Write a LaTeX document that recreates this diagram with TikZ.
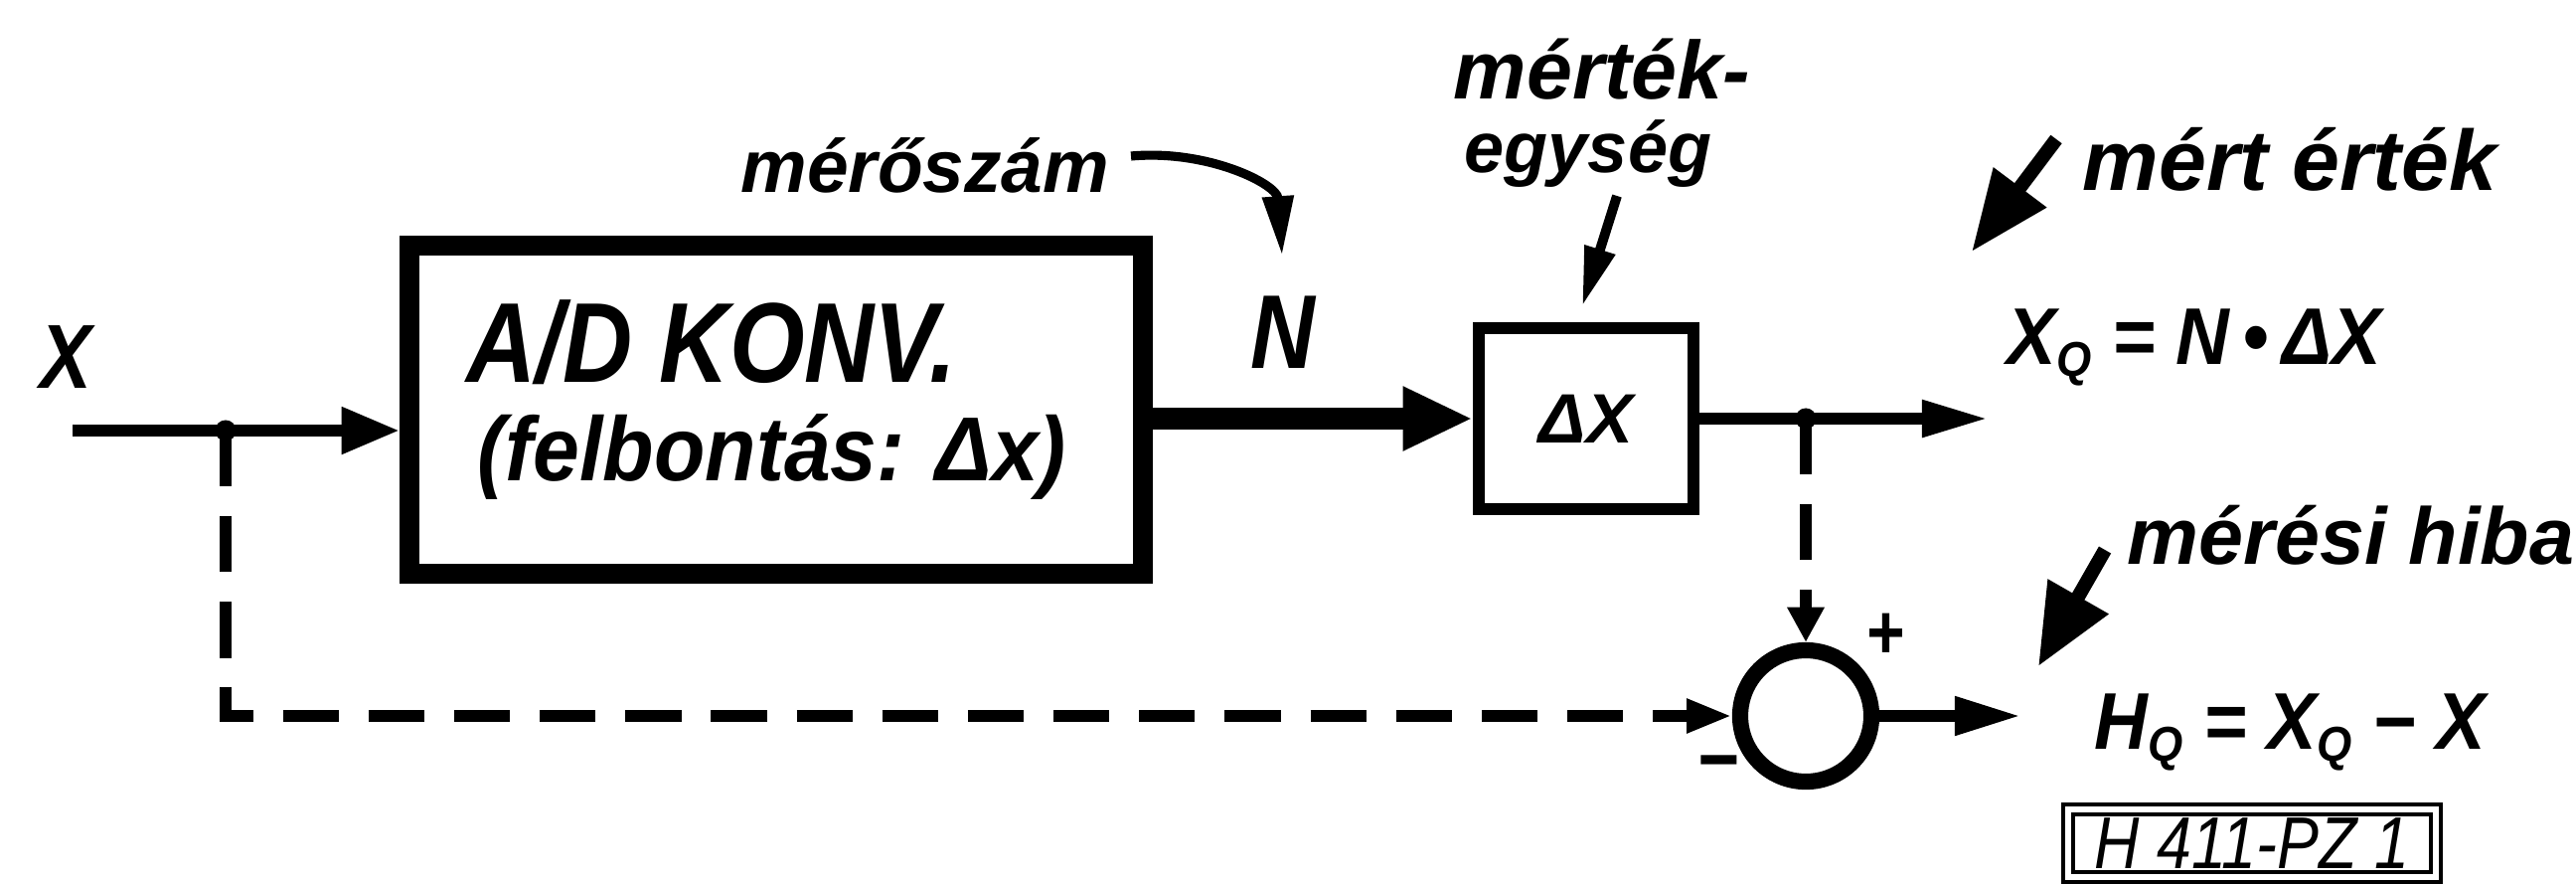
\documentclass[tikz,border=0pt]{standalone}
\usepackage{fontspec}
\setmainfont{Liberation Sans}
\newfontfamily\hwn[FakeStretch=0.85]{Liberation Sans}
\newfontfamily\hwm[FakeStretch=0.92]{Liberation Sans}
\newfontfamily\hww{Liberation Sans}
\usetikzlibrary{arrows.meta}
\begin{document}
\begin{tikzpicture}[x=0.01cm,y=-0.01cm,
  lbn/.style={font={\hwn\bfseries\itshape\fontsize{#1}{#1}\selectfont}, inner sep=0pt},
  lbm/.style={font={\hwm\bfseries\itshape\fontsize{#1}{#1}\selectfont}, inner sep=0pt},
  lbw/.style={font={\hww\bfseries\itshape\fontsize{#1}{#1}\selectfont}, inner sep=0pt},
  ln/.style={line width=3.2pt},
  dsh/.style={line width=3.4pt, dash pattern=on 16pt off 8.5pt},
  dot/.style={fill, radius=3pt}
]
\useasboundingbox[fill=white] (0,0) rectangle (2592,888);
\newcommand{\subQ}{\raisebox{-0.3ex}{\fontsize{14}{14}\selectfont Q}}

% blocks
\node[draw, line width=5.7pt, minimum width=7.38cm, minimum height=3.29cm, inner sep=0pt] (ad) at (781,412) {};
\node[lbn=32.5, anchor=base west] (adt1) at (469,384) {A/D KONV.};
\node[lbm=26, anchor=base west] (adt2) at (480,483) {(felbontás: Δx)};

\node[draw, line width=3.4pt, minimum width=2.16cm, minimum height=1.81cm, lbw=20] (dx) at (1596,421) {ΔX};

\node[circle, draw, line width=4.6pt, minimum size=1.32cm, inner sep=0pt] (sum) at (1817,720) {};

% labels
\node[lbn=26, anchor=base west] (X) at (40,390) {X};
\node[lbw=21.3, anchor=base west] (msz) at (745,193) {mérőszám};
\node[lbn=30, anchor=base west] (N) at (1258,370) {N};
\node[lbw=23.5, anchor=base west] (mt) at (1462,100) {mérték-};
\node[lbw=20.5, anchor=base west] (eg) at (1473,173) {egység};
\node[lbw=24.5, anchor=base west] (me) at (2095,192) {mért érték};
\node[lbm=23, anchor=base west] (xqt) at (2019,366) {X\subQ{} = N\,•\,ΔX};
\node[lbw=23, anchor=base west] (mh) at (2140,567) {mérési hiba};
\node[lbm=23, anchor=base west] (hqt) at (2107,753) {H\subQ{} = X\subQ{} − X};
\node[lbn=22] (plus) at (1897,640) {+};
\node[lbn=24] (minus) at (1728,776) {−};
\node[draw, line width=1.2pt, double, double distance=1.6pt, minimum width=3.7cm, minimum height=0.68cm, inner sep=0pt,
      font={\hwn\itshape\fontsize{21}{21}\selectfont}] (code) at (2266,848) {H 411-PZ 1};

% connectors
\coordinate (in0) at (73,433);
\coordinate (j1) at (227,433);
\coordinate (j2) at (1817,421);
\coordinate (xq) at (2000,421);
\coordinate (hq) at (2033,720);

\draw[ln] (in0) -- (j1);
\draw[ln, -{Triangle[length=16.5pt,width=12.8pt]}] (j1) -- (j1 -| ad.west);
\draw[line width=6pt, -{Triangle[length=20pt,width=17pt]}] (ad.east |- dx.west) -- (dx.west);
\draw[ln] (dx.east) -- (j2);
\draw[ln, -{Triangle[length=18.8pt,width=10pt]}] (j2) -- (xq);
\draw[dsh, -{Triangle[length=10pt,width=10pt]}] (j2) -- (sum.north);
\draw[dsh, -{Triangle[length=13pt,width=9pt]}] (j1) -- (j1 |- sum.west) -- (sum.west);
\draw[ln, -{Triangle[length=18.8pt,width=10.5pt]}] (sum.east) -- (hq);
\fill[dot] (j1) circle;
\fill[dot] (j2) circle;

% label arrows
\coordinate (ms0) at (1138,157);
\coordinate (ms1) at (1290,257);
\draw[line width=2.6pt, -{Triangle[length=17pt,width=8.5pt]}] (ms0) .. controls (1215,150) and (1285,185) .. (ms1);
\coordinate (eg0) at (1627,197);
\coordinate (eg1) at (1592,308);
\draw[line width=2.8pt, -{Triangle[length=17pt,width=8.5pt]}] (eg0) -- (eg1);
\coordinate (me0) at (2069,140);
\coordinate (me1) at (1984,253);
\draw[line width=4pt, -{Triangle[length=23pt,width=18pt]}] (me0) -- (me1);
\coordinate (mh0) at (2118,553);
\coordinate (mh1) at (2051,670);
\draw[line width=4pt, -{Triangle[length=23pt,width=19pt]}] (mh0) -- (mh1);
\end{tikzpicture}
\end{document}
